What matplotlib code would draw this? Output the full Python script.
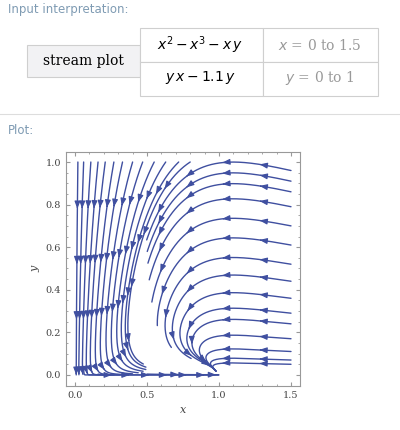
import matplotlib
matplotlib.use('Agg')
import matplotlib.pyplot as plt
from matplotlib.patches import Rectangle
import numpy as np

LINE = "#3f4fa0"
LABEL = "#7f9bb3"

# seed points of the drawn streamlines
top_seed_x = [0.02, 0.06, 0.11, 0.16, 0.21, 0.27, 0.33, 0.40, 0.47, 0.55, 0.63, 0.72, 0.80]
right_seed_y = [0.05, 0.07, 0.11, 0.17, 0.24, 0.29, 0.36, 0.44, 0.52, 0.61, 0.70, 0.79, 0.86, 0.91, 0.96]
low_seed = [(0.16, 0.004), (0.50, 0.004), (0.06, 0.03)]
x_ticks = [0.0, 0.5, 1.0, 1.5]
y_ticks = [0.0, 0.2, 0.4, 0.6, 0.8, 1.0]


def field(x, y):
    return x**2 - x**3 - x * y, y * x - 1.1 * y


def trace(x, y, max_len=1.15, ds=0.004):
    pts = [(x, y)]
    s = 0.0
    while s < max_len:
        u, v = field(x, y)
        sp = np.hypot(u, v)
        if sp < 4e-3:
            break
        x += ds * u / sp; y += ds * v / sp
        if not (-0.01 <= x <= 1.52 and -0.005 <= y <= 1.01):
            break
        pts.append((x, y)); s += ds
    return np.array(pts)


W, H = 400, 430
fig = plt.figure(figsize=(4.0, 4.3), dpi=100)
fig.patch.set_facecolor("white")
ov = fig.add_axes([0, 0, 1, 1])
ov.set_xlim(0, W); ov.set_ylim(H, 0); ov.axis('off')

ov.text(8, 9, "Input interpretation:", fontsize=8.5, color=LABEL, va='center')
ov.add_patch(Rectangle((27, 45), 113, 32, facecolor="#f2f2f4", edgecolor="#cfcfcf", lw=0.8))
for (x0, y0) in [(140, 28), (263, 28), (140, 62), (263, 62)]:
    ov.add_patch(Rectangle((x0, y0), 123 if x0 == 140 else 115, 34,
                           facecolor="white", edgecolor="#cfcfcf", lw=0.8))
ov.text(83, 61, "stream plot", fontsize=10, family="DejaVu Serif", ha='center', va='center')
ov.text(200, 45, r"$x^2 - x^3 - x\,y$", fontsize=10, ha='center', va='center')
ov.text(200, 78, r"$y\,x - 1.1\,y$", fontsize=10, ha='center', va='center')
ov.text(320, 45, r"$x$ = 0 to 1.5", fontsize=10, color="#999999", ha='center', va='center', family="DejaVu Serif")
ov.text(320, 78, r"$y$ = 0 to 1", fontsize=10, color="#999999", ha='center', va='center', family="DejaVu Serif")
ov.plot([0, W], [114, 114], color="#dddddd", lw=0.8)
ov.text(8, 130, "Plot:", fontsize=8.5, color=LABEL, va='center')

ax = fig.add_axes([66 / W, 1 - 386 / H, 234 / W, 234 / H])
ax.set_xlim(-0.0625, 1.5625); ax.set_ylim(-0.052, 1.047)

seeds = [(x, 1.0) for x in top_seed_x] + [(1.5, y) for y in right_seed_y] + low_seed
for sx, sy in seeds:
    p = trace(sx, sy)
    if len(p) < 3:
        continue
    ax.plot(p[:, 0], p[:, 1], color=LINE, lw=1.0, solid_capstyle='round')
    seg = np.r_[0, np.cumsum(np.hypot(*np.diff(p, axis=0).T))]
    for d in np.arange(0.21, seg[-1] - 0.01, 0.26):
        i = np.searchsorted(seg, d)
        j = min(i + 2, len(p) - 1)
        ax.annotate("", xy=p[j], xytext=p[i],
                    arrowprops=dict(arrowstyle="-|>,head_length=0.45,head_width=0.17",
                                    color=LINE, lw=0.8, shrinkA=0, shrinkB=0))

ax.set_xticks(x_ticks); ax.set_yticks(y_ticks)
ax.set_xticklabels([f"{t:.1f}" for t in x_ticks], family="DejaVu Serif", fontsize=7, color="#444444")
ax.set_yticklabels([f"{t:.1f}" for t in y_ticks], family="DejaVu Serif", fontsize=7, color="#444444")
ax.tick_params(direction='in', length=3, color="#999999", top=True, right=True)
ax.minorticks_on()
ax.tick_params(which='minor', direction='in', length=1.5, color="#999999", top=True, right=True)
for s in ax.spines.values():
    s.set_color("#999999"); s.set_linewidth(0.8)
ax.set_xlabel("x", family="DejaVu Serif", style='italic', fontsize=8, color="#444444")
ax.set_ylabel("y", family="DejaVu Serif", style='italic', fontsize=8, color="#444444")

fig.savefig("out.png", dpi=100)
